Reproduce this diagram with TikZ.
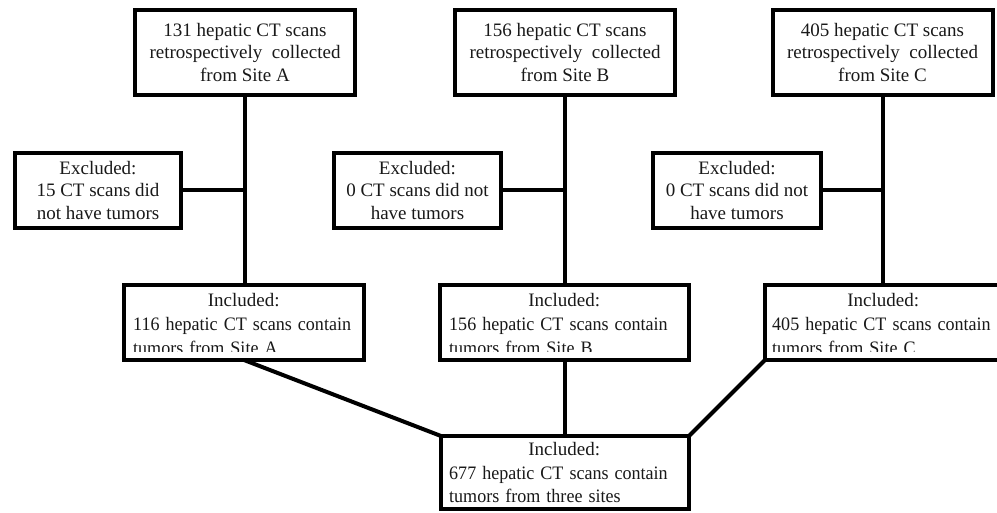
\documentclass[tikz,border=0pt]{standalone}
\usepackage{fontspec}
\setmainfont{Liberation Serif}
\hyphenpenalty=10000
\exhyphenpenalty=10000
\newcommand{\sqz}[1]{\scalebox{0.95}[1]{#1}}
\begin{document}
\begin{tikzpicture}[x=1pt,y=-1pt,
  box/.style={draw=black, line width=4pt, rectangle, inner sep=0pt, outer sep=0pt, fill=white},
  txt/.style={font=\fontsize{19}{22.5}\selectfont, inner sep=0pt, text=black!90},
  intxt/.style={inner sep=0pt, text=black!90, anchor=west, text width=260pt, align=left},
  link/.style={draw=black, line width=4pt}]
\useasboundingbox[fill=white] (0,0) rectangle (997,513);

% top boxes
\node[box, txt, minimum width=220pt, minimum height=85pt, align=center] (topA) at (245,52.5) {131 hepatic CT scans\\retrospectively\ \ collected\\from Site A};
\node[box, txt, minimum width=220pt, minimum height=85pt, align=center] (topB) at (565,52.5) {156 hepatic CT scans\\retrospectively\ \ collected\\from Site B};
\node[box, txt, minimum width=220pt, minimum height=85pt, align=center] (topC) at (882.5,52.5) {405 hepatic CT scans\\retrospectively\ \ collected\\from Site C};

% excluded boxes
\node[box, txt, minimum width=166pt, minimum height=75pt, align=center] (exA) at (98,190.5) {Excluded:\\15 CT scans did\\not have tumors};
\node[box, txt, minimum width=167pt, minimum height=75pt, align=center] (exB) at (417.5,190.5) {Excluded:\\0 CT scans did not\\have tumors};
\node[box, txt, minimum width=168pt, minimum height=75pt, align=center] (exC) at (737,190.5) {Excluded:\\0 CT scans did not\\have tumors};

% included boxes (frames)
\node[box, minimum width=240pt, minimum height=75pt] (inA) at (244,322.5) {};
\node[box, minimum width=249pt, minimum height=75pt] (inB) at (564.5,322.5) {};
\node[box, minimum width=240pt, minimum height=75pt] (inC) at (885,322.5) {};
\node[box, minimum width=248pt, minimum height=73pt] (all) at (565,472.5) {};

% connectors
\draw[link] (topA.south) -- (topA.south |- inA.north);
\draw[link] (topB.south) -- (topB.south |- inB.north);
\draw[link] (topC.south) -- (topC.south |- inC.north);
\draw[link] (exA.east) -- (exA.east -| topA.south);
\draw[link] (exB.east) -- (exB.east -| topB.south);
\draw[link] (exC.east) -- (exC.east -| topC.south);
\draw[link] (inA.south) -- (all.north west);
\draw[link] (inB.south) -- (inB.south |- all.north);
\draw[link] (inC.south west) -- (all.north east);

% included texts (clipped at the bottom as in the reference)
\begin{scope}
\clip (124,285) rectangle (364,351.5);
\node[intxt, font=\fontsize{19}{24}\selectfont] (tA) at (133,324.5) {\makebox[221pt]{Included:}\\\sqz{116 hepatic CT scans contain}\\\sqz{tumors from Site A}};
\end{scope}
\begin{scope}
\clip (440,285) rectangle (689,351.5);
\node[intxt, font=\fontsize{19}{24}\selectfont] (tB) at (449,324.5) {\makebox[230pt]{Included:}\\\sqz{156 hepatic CT scans contain}\\\sqz{tumors from Site B}};
\end{scope}
\begin{scope}
\clip (765,285) rectangle (1004,351.5);
\node[intxt, font=\fontsize{19}{24}\selectfont] (tC) at (772,324.5) {\makebox[222pt]{Included:}\\\sqz{405 hepatic CT scans contain}\\\sqz{tumors from Site C}};
\end{scope}
\node[intxt, font=\fontsize{19}{23.5}\selectfont] (tAll) at (449,473) {\makebox[230pt]{Included:}\\\sqz{677 hepatic CT scans contain}\\\sqz{tumors from three sites}};
\end{tikzpicture}
\end{document}
